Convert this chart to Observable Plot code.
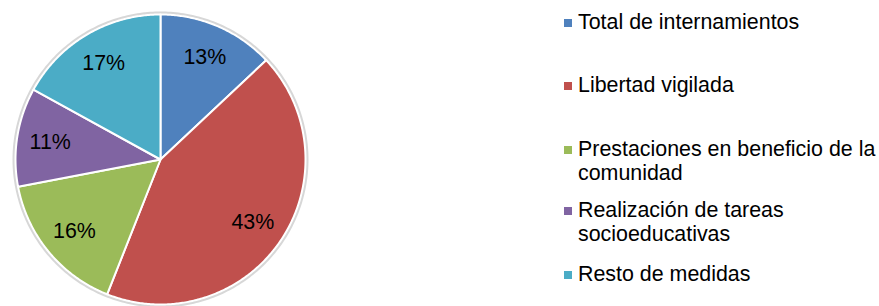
<!DOCTYPE html>
<html><head><meta charset="utf-8">
<script src="https://cdn.jsdelivr.net/npm/d3@7"></script>
<script src="https://cdn.jsdelivr.net/npm/@observablehq/plot@0.6"></script>
<style>
html,body{margin:0;padding:0;background:#fff;overflow:hidden;}
#wrap{position:relative;width:879px;height:306px;overflow:hidden;font-family:"Liberation Sans",Arial,sans-serif;}
#chart{position:absolute;left:0;top:0;}
.item{position:absolute;left:564px;width:315px;font-size:21.4px;line-height:23.5px;color:#000;}
.item .sw{position:absolute;left:0;top:8px;width:8px;height:8px;}
.item .tx{display:block;margin-left:14px;width:305px;}
</style></head><body>
<div id="wrap"><div id="chart"></div><div id="legend"></div></div>
<script>
const categories = ["Total de internamientos","Libertad vigilada","Prestaciones en beneficio de la comunidad","Realización de tareas socioeducativas","Resto de medidas"];
const values = [13, 43, 16, 11, 17];
const colors = ["#4F81BD","#C0504D","#9BBB59","#8064A2","#4BACC6"];

// layout constants
const R = 145;
const legendTops = [11, 74, 138, 199, 263];

const table = categories.map((name, i) => ({name, value: values[i]}));
const total = d3.sum(table, d => d.value);
const arcs = d3.pie().sort(null).value(d => d.value)(table);

const slicePts = [];
for (const a of arcs) {
  slicePts.push({name: a.data.name, x: 0, y: 0});
  const n = Math.max(2, Math.ceil((a.endAngle - a.startAngle) / 0.01));
  for (let k = 0; k <= n; k++) {
    const t = a.startAngle + (a.endAngle - a.startAngle) * k / n;
    slicePts.push({name: a.data.name, x: R * Math.sin(t), y: R * Math.cos(t)});
  }
}
const ring = d3.range(0, 361, 1).map(deg => {
  const t = deg * Math.PI / 180;
  return {x: (R + 1.5) * Math.sin(t), y: (R + 1.5) * Math.cos(t)};
});
const labels = arcs.map(a => {
  const m = (a.startAngle + a.endAngle) / 2;
  return {x: 0.77 * R * Math.sin(m), y: 0.77 * R * Math.cos(m), text: Math.round(a.data.value / total * 100) + "%"};
});

const chart = Plot.plot({
  width: 320, height: 306, margin: 0,
  style: {fontFamily: '"Liberation Sans", Arial, sans-serif', background: "transparent"},
  x: {domain: [-160, 160], axis: null},
  y: {domain: [-147, 159], axis: null},
  color: {domain: categories, range: colors},
  marks: [
    Plot.line(ring, {x: "x", y: "y", stroke: "#bdbdbd", strokeWidth: 3, strokeOpacity: 0.6, curve: "linear-closed"}),
    Plot.line(slicePts, {x: "x", y: "y", z: "name", fill: "name", stroke: "white", strokeWidth: 2, strokeLinejoin: "round", curve: "linear-closed"}),
    Plot.text(labels, {x: "x", y: "y", text: "text", fontSize: 21.4, fill: "black"})
  ]
});
document.getElementById("chart").appendChild(chart);

const leg = document.getElementById("legend");
categories.forEach((c, i) => {
  const it = document.createElement("div");
  it.className = "item";
  it.style.top = legendTops[i] + "px";
  const sw = document.createElement("span");
  sw.className = "sw";
  sw.style.background = colors[i];
  const tx = document.createElement("span");
  tx.className = "tx";
  tx.textContent = c;
  it.appendChild(sw); it.appendChild(tx);
  leg.appendChild(it);
});
</script>
</body></html>
